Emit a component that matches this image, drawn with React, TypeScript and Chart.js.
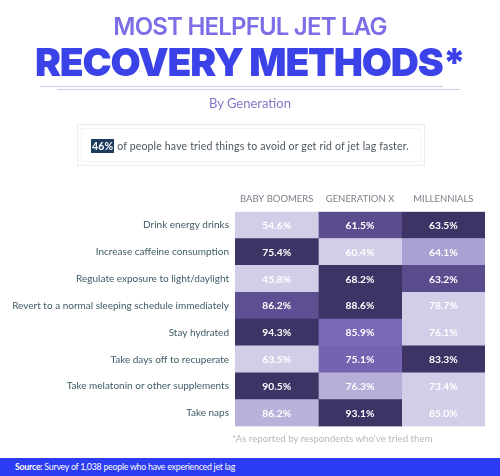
import React, { useEffect, useRef } from "react";
import { Chart, registerables } from "chart.js";

Chart.register(...registerables);

const methods = [
  "Drink energy drinks",
  "Increase caffeine consumption",
  "Regulate exposure to light/daylight",
  "Revert to a normal sleeping schedule immediately",
  "Stay hydrated",
  "Take days off to recuperate",
  "Take melatonin or other supplements",
  "Take naps",
];
const generations = ["BABY BOOMERS", "GENERATION X", "MILLENNIALS"];
const babyBoomers = [54.6, 75.4, 45.8, 86.2, 94.3, 63.5, 90.5, 86.2];
const generationX = [61.5, 60.4, 68.2, 88.6, 85.9, 75.1, 76.3, 93.1];
const millennials = [63.5, 64.1, 63.2, 78.7, 76.1, 83.3, 73.4, 85.0];
const seriesValues = [babyBoomers, generationX, millennials];

const LIGHT = [211, 206, 231];
const MID = [120, 103, 182];
const DARK = [62, 51, 101];

function mix(a: number[], b: number[], t: number) {
  return a.map((v, i) => Math.round(v + (b[i] - v) * t));
}
function cellColor(row: number, col: number) {
  const vals = seriesValues.map((s) => s[row]);
  const mn = Math.min(...vals);
  const mx = Math.max(...vals);
  const t = mx === mn ? 1 : (seriesValues[col][row] - mn) / (mx - mn);
  const c = t < 0.55 ? mix(LIGHT, MID, t / 0.55) : mix(MID, DARK, (t - 0.55) / 0.45);
  return `rgb(${c[0]},${c[1]},${c[2]})`;
}

const FONT = "Lato, 'Noto Sans', sans-serif";

const cellLabels = {
  id: "cellLabels",
  afterDatasetsDraw(chart: any) {
    const ctx = chart.ctx;
    ctx.save();
    ctx.font = `bold 10.3px ${FONT}`;
    ctx.fillStyle = "#ffffff";
    ctx.textAlign = "center";
    ctx.textBaseline = "middle";
    chart.data.datasets.forEach((ds: any, di: number) => {
      const meta = chart.getDatasetMeta(di);
      meta.data.forEach((el: any, i: number) => {
        const p = el.getCenterPoint();
        ctx.fillText(seriesValues[di][i].toFixed(1) + "%", p.x, p.y + 0.5);
      });
    });
    ctx.restore();
  },
};

export default function App() {
  const ref = useRef<HTMLCanvasElement>(null);
  useEffect(() => {
    document.body.style.margin = "0";
    const chart = new Chart(ref.current!, {
      type: "bar",
      data: {
        labels: methods,
        datasets: generations.map((g, gi) => ({
          label: g,
          data: methods.map(() => 1),
          backgroundColor: methods.map((_, ri) => cellColor(ri, gi)),
          borderWidth: 0,
          barPercentage: 1,
          categoryPercentage: 1,
        })),
      },
      options: {
        indexAxis: "y",
        animation: false,
        responsive: false,
        events: [],
        layout: { padding: { top: 188, bottom: 49.6, left: 0, right: 15 } },
        plugins: { legend: { display: false }, tooltip: { enabled: false } },
        scales: {
          x: {
            type: "linear",
            position: "top",
            stacked: true,
            min: 0,
            max: 3,
            grid: { display: false, drawTicks: false },
            border: { display: false },
            afterBuildTicks: (s: any) => {
              s.ticks = generations.map((_, i) => ({ value: i + 0.5 }));
            },
            afterFit: (s: any) => {
              s.height = 23.7;
            },
            ticks: {
              padding: 7,
              color: "#7b808a",
              font: { family: FONT, size: 9.5, weight: "normal" },
              callback: (v: any) => generations[Math.floor(Number(v))],
            },
          },
          y: {
            type: "category",
            stacked: true,
            grid: { display: false, drawTicks: false },
            border: { display: false },
            afterFit: (s: any) => {
              s.width = 235;
            },
            ticks: {
              padding: 6,
              color: "#3f5b66",
              font: { family: FONT, size: 10 },
            },
          },
        },
      },
      plugins: [cellLabels],
    });
    return () => chart.destroy();
  }, []);

  const abs = (s: React.CSSProperties): React.CSSProperties => ({ position: "absolute", ...s });
  return (
    <div style={{ position: "relative", width: 500, height: 476, overflow: "hidden", background: "#fff", fontFamily: FONT }}>
      <canvas ref={ref} width={500} height={476} style={abs({ left: 0, top: 0, width: 500, height: 476 })} />
      <div style={abs({ left: 0, top: 12, width: 500, textAlign: "center", fontFamily: "Inter, sans-serif", fontWeight: 600, fontSize: 24, letterSpacing: -0.8, color: "#7b6ee6", lineHeight: "30px" })}>
        MOST HELPFUL JET LAG
      </div>
      <div style={abs({ left: 0, top: 38, width: 500, textAlign: "center", fontFamily: "Inter, sans-serif", fontWeight: 900, fontSize: 39, letterSpacing: -1.2, color: "#3a42e8", lineHeight: "48px" })}>
        RECOVERY METHODS*
      </div>
      <div style={abs({ left: 40, top: 86, width: 403, height: 1, background: "#cfcaea" })} />
      <div style={abs({ left: 57, top: 89, width: 403, height: 1, background: "#cfcaea" })} />
      <div style={abs({ left: 0, top: 94, width: 500, textAlign: "center", fontSize: 13, color: "#7f78c8", lineHeight: "18px" })}>
        By Generation
      </div>
      <div style={abs({ left: 77, top: 124, width: 348, height: 42, boxSizing: "border-box", border: "1px solid #ececf0", boxShadow: "inset 0 0 0 3px #fff, inset 0 0 0 4px #f3f3f6" })} />
      <div style={abs({ left: 91, top: 138, fontSize: 10.5, letterSpacing: 0.17, color: "#4b5660", lineHeight: "16px", whiteSpace: "nowrap" })}>
        <span style={{ background: "#1d3c5e", color: "#fff", fontWeight: 700, padding: "1px 1px" }}>46%</span> of people have tried things to avoid or get rid of jet lag faster.
      </div>
      <div style={abs({ left: 232, top: 431, fontSize: 9.7, color: "#b7b7bf", lineHeight: "14px", whiteSpace: "nowrap" })}>
        *As reported by respondents who've tried them
      </div>
      <div style={abs({ left: 0, top: 458, width: 500, height: 18, background: "#2b3cf2" })} />
      <div style={abs({ left: 15, top: 460, fontSize: 8.8, letterSpacing: -0.25, color: "#fff", lineHeight: "14px", whiteSpace: "nowrap" })}>
        <b>Source:</b> Survey of 1,038 people who have experienced jet lag
      </div>
    </div>
  );
}
